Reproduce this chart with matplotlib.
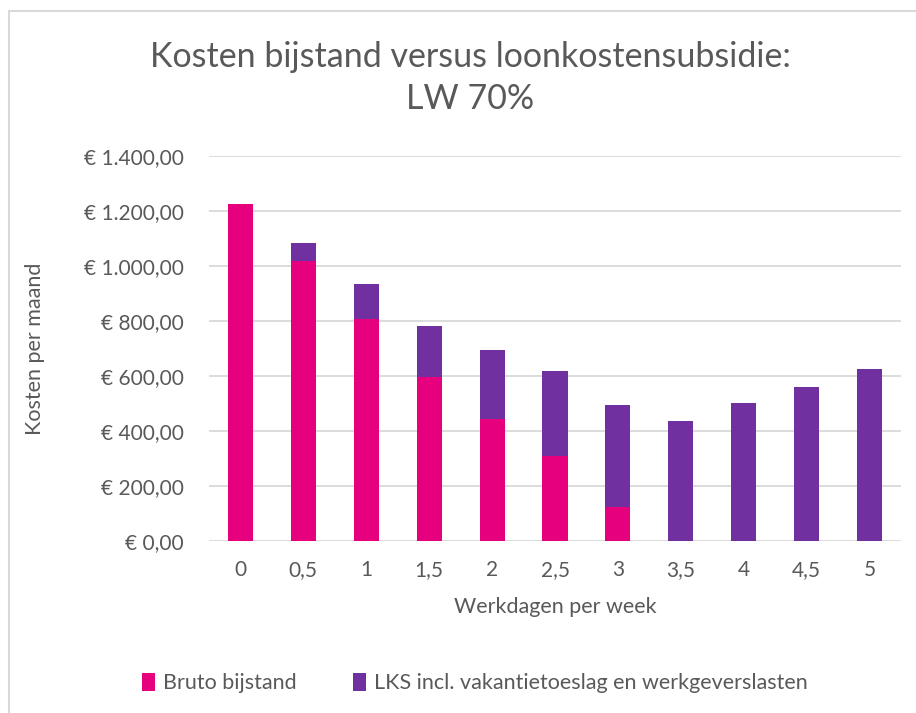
import matplotlib.pyplot as plt
from matplotlib.patches import Rectangle
from matplotlib.ticker import FuncFormatter

plt.rcParams['font.family'] = ['Lato', 'DejaVu Sans']

werkdagen = ['0', '0,5', '1', '1,5', '2', '2,5', '3', '3,5', '4', '4,5', '5']
bruto_bijstand = [1227, 1017, 806, 597, 442, 309, 122, 0, 0, 0, 0]
lks = [0, 67, 128, 185, 253, 310, 371, 435, 501, 559, 624]

PINK = '#E6007E'
PURPLE = '#7030A0'
GREY_TXT = '#595959'
GRID = '#D9D9D9'


def euro(v, pos):
	s = '{:,.2f}'.format(v)
	s = s.replace(',', 'X').replace('.', ',').replace('X', '.')
	return '€ ' + s


def plot_chart():
	fig = plt.figure(figsize=(9.16, 7.13), dpi=100)
	ax = fig.add_axes([209/916, 172/713, 692/916, 385/713])

	x = range(len(werkdagen))
	ax.bar(x, bruto_bijstand, width=0.4, color=PINK, label='Bruto bijstand', zorder=3)
	ax.bar(x, lks, width=0.4, bottom=bruto_bijstand, color=PURPLE,
		label='LKS incl. vakantietoeslag en werkgeverslasten', zorder=3)

	ax.set_xlim(-0.5, len(werkdagen) - 0.5)
	ax.set_ylim(0, 1400)
	ax.set_yticks(range(0, 1401, 200))
	ax.yaxis.set_major_formatter(FuncFormatter(euro))
	ax.set_xticks(list(x))
	ax.set_xticklabels(werkdagen)
	ax.yaxis.grid(True, color=GRID, linewidth=1.3, zorder=0)
	ax.tick_params(length=0, labelsize=15, labelcolor=GREY_TXT)
	ax.tick_params(axis='y', pad=18)
	ax.tick_params(axis='x', pad=14)
	for s in ax.spines.values():
		s.set_visible(False)

	ax.set_xlabel('Werkdagen per week', fontsize=15.5, color=GREY_TXT, labelpad=12)
	ax.set_ylabel('Kosten per maand', fontsize=15.5, color=GREY_TXT)
	ax.yaxis.set_label_coords(-0.237, 0.5)

	fig.text(470/916, 1 - 78/713, 'Kosten bijstand versus loonkostensubsidie:\nLW 70%',
		ha='center', va='center', fontsize=24.5, color=GREY_TXT, linespacing=1.4)

	fig.legend(loc='center', bbox_to_anchor=(475/916, 1 - 683/713), ncol=2, frameon=False,
		fontsize=15.5, labelcolor=GREY_TXT, handlelength=0.6, handleheight=0.9,
		handletextpad=0.4, columnspacing=2.6)

	# chart border
	fig.patches.append(Rectangle((9/916, -0.05), 1.1, 1 - 11/713 + 0.05,
		transform=fig.transFigure, fill=False, edgecolor=GRID, linewidth=1.5))

	fig.savefig('out.png', dpi=100)


if __name__ == '__main__':
	plot_chart()
